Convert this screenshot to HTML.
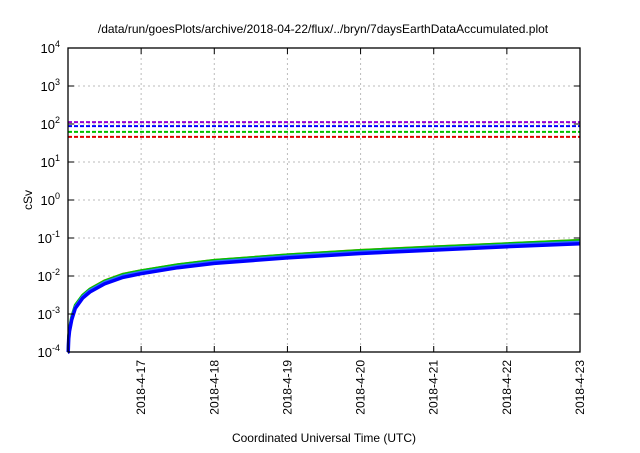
<!DOCTYPE html>
<html><head><meta charset="utf-8"><style>
body{margin:0;background:#fff}
svg text{font-family:"Liberation Sans",sans-serif;fill:#000}
</style></head><body>
<svg width="640" height="448" viewBox="0 0 640 448" id="c"></svg>
<script>
const yTicksExp=[-4,-3,-2,-1,0,1,2,3,4];
const xTickLabels=["2018-4-17","2018-4-18","2018-4-19","2018-4-20","2018-4-21","2018-4-22","2018-4-23"];
const xTickDays=[1,2,3,4,5,6,7];
const days=[0.003,0.01,0.02,0.05,0.1,0.2,0.3,0.5,0.75,1,1.5,2,3,4,5,6,7];
const blueVals=[1e-4,2.2e-4,3.5e-4,7e-4,1.4e-3,2.6e-3,3.8e-3,6.2e-3,9.2e-3,1.15e-2,1.65e-2,2.15e-2,3.0e-2,3.9e-2,4.8e-2,5.9e-2,7.1e-2];
const greenVals=[1.2e-4,2.7e-4,4.3e-4,8.5e-4,1.7e-3,3.1e-3,4.5e-3,7.4e-3,1.1e-2,1.38e-2,1.98e-2,2.58e-2,3.6e-2,4.7e-2,5.8e-2,7.1e-2,8.6e-2];
const redVals=[1.25e-4,2.8e-4,4.5e-4,8.8e-4,1.75e-3,3.2e-3,4.7e-3,7.7e-3,1.15e-2,1.42e-2,2.05e-2,2.65e-2,3.7e-2,4.85e-2,6.0e-2,7.3e-2,8.9e-2];
const limitNames=["purple","blue","green","red"];
const limitVals=[112,88,62,46];
const limitColors=["#9400d3","#0000ff","#00c000","#e00000"];

const L=68,R=580,T=48,B=352;
const xs=d=>L+(R-L)*d/7;
const ys=v=>T+(4-Math.log10(v))*(B-T)/8;
const svg=document.getElementById('c');const NS="http://www.w3.org/2000/svg";
function mk(t,a,txt){const e=document.createElementNS(NS,t);for(const k in a)e.setAttribute(k,a[k]);if(txt!==undefined)e.textContent=txt;svg.appendChild(e);return e;}
// grid
xTickDays.forEach(d=>{if(d<7){const g=mk('line',{x1:xs(d),x2:xs(d),y1:T,y2:B,stroke:'#bbb','stroke-dasharray':'2,3','stroke-width':1});

}});
yTicksExp.forEach(e=>{if(e>-4&&e<4){const g=mk('line',{x1:L,x2:R,y1:ys(Math.pow(10,e)),y2:ys(Math.pow(10,e)),stroke:'#bbb','stroke-dasharray':'2,3','stroke-width':1});

}});
// limits
limitVals.forEach((v,i)=>{const l=mk('line',{x1:L,x2:R,y1:ys(v),y2:ys(v),stroke:limitColors[i],'stroke-width':2,'stroke-dasharray':'4,2'});

});
// curves
function curve(vals,col,w,name){const d=vals.map((v,i)=>(i?'L':'M')+xs(days[i]).toFixed(1)+','+ys(v).toFixed(1)).join('');
const p=mk('path',{d:'M'+xs(0)+','+B+d.replace('M','L'),fill:'none',stroke:col,'stroke-width':w,'stroke-linejoin':'round'});

}
curve(redVals,'#e08000',2,'series-orange');
curve(greenVals,'#00c000',3,'series-green');
curve(blueVals.map(v=>v*1.1),'#3070ff',3,'series-lightblue');
curve(blueVals,'#0000ff',3.5,'series-blue');
// frame
const f=mk('rect',{x:L,y:T,width:R-L,height:B-T,fill:'none',stroke:'#000','stroke-width':1.3});


// y ticks
yTicksExp.forEach(e=>{const y=ys(Math.pow(10,e));
mk('line',{x1:L,x2:L+6,y1:y,y2:y,stroke:'#000'});mk('line',{x1:R-6,x2:R,y1:y,y2:y,stroke:'#000'});
const t=mk('text',{x:L-8,y:y+5,'text-anchor':'end','font-size':13});


t.innerHTML='10<tspan dy="-6" font-size="9">'+e+'</tspan>';});
// x ticks
xTickDays.forEach((d,i)=>{const x=xs(d);
mk('line',{x1:x,x2:x,y1:B,y2:B-6,stroke:'#000'});mk('line',{x1:x,x2:x,y1:T,y2:T+6,stroke:'#000'});
const t=mk('text',{x:0,y:0,'text-anchor':'end','font-size':12,transform:`translate(${x+4},${B+8}) rotate(-90)`},xTickLabels[i]);

});
const ti=mk('text',{x:323,y:33,'text-anchor':'middle','font-size':12},'/data/run/goesPlots/archive/2018-04-22/flux/../bryn/7daysEarthDataAccumulated.plot');


const yl=mk('text',{x:0,y:0,'text-anchor':'middle','font-size':12,transform:'translate(32,200) rotate(-90)'},'cSv');


const xl=mk('text',{x:324,y:442,'text-anchor':'middle','font-size':12},'Coordinated Universal Time (UTC)');


</script>
</body></html>
